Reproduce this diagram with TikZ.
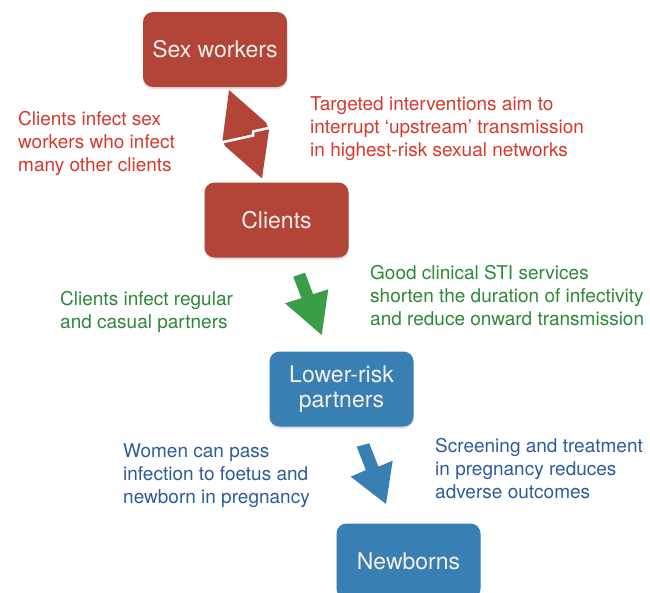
\documentclass[tikz,border=0pt]{standalone}
\usepackage{fontspec}
\setmainfont{TeX Gyre Heros}
\usetikzlibrary{shadows}
\definecolor{boxred}{RGB}{178,68,56}
\definecolor{boxblue}{RGB}{56,128,180}
\definecolor{boxtext}{RGB}{246,238,232}
\definecolor{txtred}{RGB}{216,56,44}
\definecolor{txtgreen}{RGB}{46,136,56}
\definecolor{txtblue}{RGB}{44,92,156}
\definecolor{arrgreen}{RGB}{58,158,72}
\begin{document}
\begin{tikzpicture}[x=1pt,y=-1pt,
    group/.style={rounded corners=10pt,minimum width=144pt,minimum height=75pt,
      inner sep=0pt,text=boxtext,align=center,font=\fontsize{23}{25}\selectfont,
      drop shadow={opacity=0.25,shadow xshift=0pt,shadow yshift=-2pt}},
    note/.style={anchor=north west,inner sep=0pt,align=left,
      font=\fontsize{19}{23}\selectfont}]
    \useasboundingbox (0,0) rectangle (650,592);
    % groups
    \node[group,fill=boxred] (SW) at (215,49.5) {Sex workers};
    \node[group,fill=boxred] (CL) at (276.5,220) {Clients};
    \node[group,fill=boxblue] (LR) at (341.5,389) {Lower-risk\\partners};
    \node[group,fill=boxblue] (NB) at (408.5,561) {Newborns};
    % two-way arrow between sex workers and clients
    \fill[boxred] (229,90)--(266,122.5)--(269,130)--(262,178.5)--(225,146)--(222.5,140)--cycle;
    \draw[white,line width=2.5pt] (219,143)--(253,135.5)--(253,131.5)--(273,127);
    % one-way arrows
    \fill[arrgreen] (293.3,276.7)--(305,272.7)--(313.1,294.2)--(328.3,289.3)
      --(321.7,335)--(285,303.3)--(301.4,298.2)--cycle;
    \fill[boxblue] (356.7,446.7)--(369.3,443.3)--(378.4,466.6)--(392.7,460.7)
      --(386,504)--(350.7,476.7)--(365.8,470)--cycle;
    % notes
    \node[note,text=txtred] (n1) at (18,111.5) {Clients infect sex\\workers who infect\\many other clients};
    \node[note,text=txtred] (n2) at (310,96.5) {Targeted interventions aim to\\interrupt ‘upstream’ transmission\\in highest-risk sexual networks};
    \node[note,text=txtgreen] (n3) at (60,291.5) {Clients infect regular\\and casual partners};
    \node[note,text=txtgreen] (n4) at (370,265.5) {Good clinical STI services\\shorten the duration of infectivity\\and reduce onward transmission};
    \node[note,text=txtblue] (n5) at (123,443.5) {Women can pass\\infection to foetus and\\newborn in pregnancy};
    \node[note,text=txtblue] (n6) at (435,438.5) {Screening and treatment\\in pregnancy reduces\\adverse outcomes};
\end{tikzpicture}
\end{document}
